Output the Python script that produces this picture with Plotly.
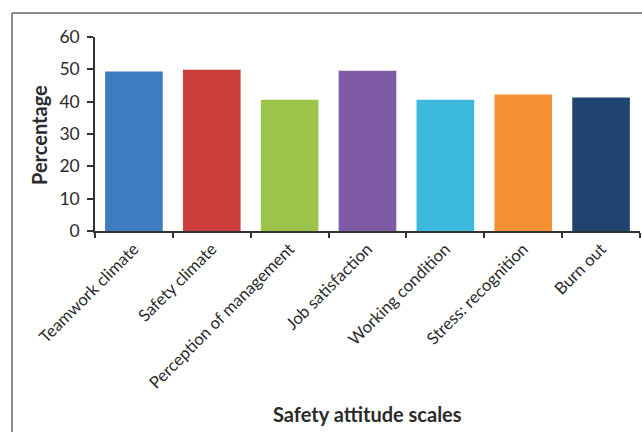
import plotly.graph_objects as go

categories = ["Teamwork climate", "Safety climate", "Perception of management",
              "Job satisfaction", "Working condition", "Stress: recognition", "Burn out"]
values = [49.3, 49.9, 40.6, 49.6, 40.6, 42.2, 41.3]
colors = ["#3F7BBF", "#CC3D3B", "#9DC44A", "#7F5BA6", "#3BB8DB", "#F59033", "#1F4470"]
y_ticks = [0, 10, 20, 30, 40, 50, 60]

W, H = 642, 432
L, R, T, B = 95, 2, 37, 201
pw = W - L - R
ph = H - T - B

fig = go.Figure(go.Bar(x=categories, y=values, marker_color=colors,
                       marker_line_width=0, width=0.74))

def px_to_paper_x(px):
    return (px - L) / pw

def px_to_paper_y(py):
    return (H - B - py) / ph

fig.add_shape(type="line", xref="paper", yref="paper",
              x0=px_to_paper_x(12), y0=px_to_paper_y(13),
              x1=px_to_paper_x(650), y1=px_to_paper_y(13),
              line=dict(color="#8c8c8c", width=2))
fig.add_shape(type="line", xref="paper", yref="paper",
              x0=px_to_paper_x(12), y0=px_to_paper_y(13),
              x1=px_to_paper_x(12), y1=px_to_paper_y(440),
              line=dict(color="#8c8c8c", width=2))

font_family = "Lato, 'Open Sans', sans-serif"
text_color = "#2b2b2b"

fig.add_annotation(text="<b>Safety attitude scales</b>", xref="paper", yref="paper",
                   x=px_to_paper_x(367), y=px_to_paper_y(414),
                   xanchor="center", yanchor="middle", showarrow=False,
                   font=dict(size=20, color=text_color, family=font_family))
fig.add_annotation(text="<b>Percentage</b>", xref="paper", yref="paper",
                   x=px_to_paper_x(39), y=px_to_paper_y(135), textangle=-90,
                   xanchor="center", yanchor="middle", showarrow=False,
                   font=dict(size=20, color=text_color, family=font_family))

fig.update_layout(
    width=W, height=H,
    margin=dict(l=L, r=R, t=T, b=B),
    paper_bgcolor="white", plot_bgcolor="white",
    showlegend=False,
    font=dict(family=font_family, color=text_color, size=16),
    bargap=0.26,
    xaxis=dict(
        tickangle=-45, tickfont=dict(size=16.7),
        showline=True, linecolor="#333333", linewidth=1.5,
        ticks="outside", ticklen=5, tickcolor="#333333", tickwidth=1.5,
        tickson="boundaries", showgrid=False, automargin=False,
    ),
    yaxis=dict(
        range=[0, 60], tickvals=y_ticks, tickfont=dict(size=17.5),
        showline=True, linecolor="#333333", linewidth=1.5,
        ticks="outside", ticklen=6, tickcolor="#333333", tickwidth=1.5,
        ticklabelstandoff=4,
        showgrid=False, zeroline=False, automargin=False,
    ),
)

fig.write_html("out.html")
